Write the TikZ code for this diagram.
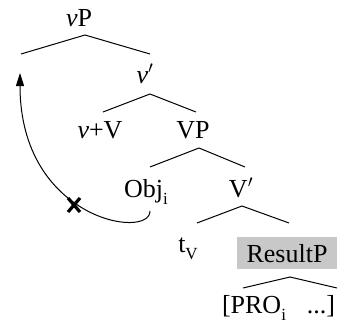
\documentclass[tikz,border=0pt]{standalone}
\usepackage{fontspec}
\setmainfont{Liberation Serif}
\usetikzlibrary{arrows.meta}
\definecolor{boxgray}{RGB}{200,200,200}
\newcommand\lowsub[1]{\raisebox{-0.28em}{\fontsize{17}{17}\selectfont #1}}
\begin{document}
\begin{tikzpicture}[x=1pt,y=-1pt,
  lbl/.style={anchor=base,inner sep=0pt,font=\fontsize{26}{30}\selectfont},
  branch/.style={line width=1pt},
  movearrow/.style={line width=1pt,-{Triangle[width=8pt,length=13pt]}}]
\useasboundingbox (0,0) rectangle (345,324);
% labels
\node[lbl] (vP) at (79,27) {\textit{v}P};
\node[lbl] (vbar) at (145,83) {\textit{v}$'$};
\node[lbl] (vV) at (100,138) {\textit{v}+V};
\node[lbl] (VP) at (193,138) {VP};
\node[lbl] (obj) at (146,197) {Obj\lowsub{i}};
\node[lbl] (Vbar) at (241,197) {V$'$};
\node[lbl] (tV) at (188,252) {t\lowsub{V}};
\node[lbl,fill=boxgray,inner xsep=9pt,inner ysep=7pt,minimum width=100pt] (res) at (287,262) {ResultP};
\node[lbl] (pro) at (254,313) {[PRO\lowsub{i}};
\node[lbl] (dots) at (321,313) {...]};
% branch points
\coordinate (a1) at (85,35); \coordinate (l1) at (21,54); \coordinate (r1) at (150,54);
\coordinate (a2) at (150,94); \coordinate (l2) at (103,112); \coordinate (r2) at (196,112);
\coordinate (a3) at (199,148); \coordinate (l3) at (150,167); \coordinate (r3) at (245,167);
\coordinate (a4) at (242,206); \coordinate (l4) at (197,223); \coordinate (r4) at (289,223);
\coordinate (a5) at (290,277); \coordinate (l5) at (243,288); \coordinate (r5) at (337,288);
\draw[branch] (l1) -- (a1) -- (r1);
\draw[branch] (l2) -- (a2) -- (r2);
\draw[branch] (l3) -- (a3) -- (r3);
\draw[branch] (l4) -- (a4) -- (r4);
\draw[branch] (l5) -- (a5) -- (r5);
% movement arrow
\coordinate (mstart) at (150,211);
\coordinate (mend) at (20,73);
\draw[movearrow] (mstart) .. controls (150,240) and (20,220) .. (mend);
\coordinate (cross) at (74,205);
\draw[line width=3.2pt] ([shift={(-6,-7)}]cross) -- ([shift={(6,7)}]cross);
\draw[line width=3.2pt] ([shift={(-6,7)}]cross) -- ([shift={(6,-7)}]cross);
\end{tikzpicture}
\end{document}
